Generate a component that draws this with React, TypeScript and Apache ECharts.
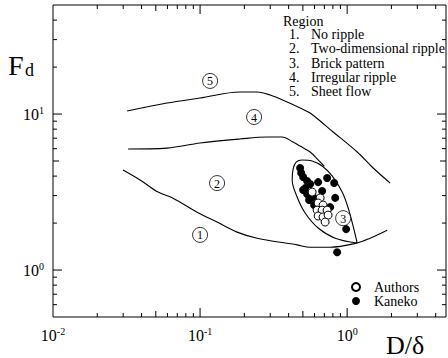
import React, { useEffect, useRef } from "react";
import * as echarts from "echarts";

const FONT = "Liberation Serif";
const FONT_CSS = "'Liberation Serif', serif";

const X_MIN = 0.01;
const X_MAX = 4.7;
const Y_MIN = 0.5;
const Y_MAX = 50;

// Region boundaries [D/delta, Fd]
const boundary45: number[][] = [
  [0.0319, 10.45], [0.0596, 11.76], [0.1, 12.66], [0.187, 13.84], [0.244, 13.84],
  [0.3, 13.24], [0.391, 11.94], [0.479, 10.93], [0.56, 10.15], [0.803, 7.67],
  [1.17, 5.71], [1.503, 4.51], [1.961, 3.61],
];
const boundary24: number[][] = [
  [0.0324, 5.97], [0.0596, 6.05], [0.1, 6.52], [0.187, 6.92], [0.286, 7.12],
  [0.361, 7.12], [0.429, 6.61], [0.479, 6.23], [0.56, 5.71], [0.64, 5.05], [0.7, 4.62],
];
const boundary12: number[][] = [
  [0.0299, 4.38], [0.0391, 3.78], [0.0518, 3.16], [0.0655, 2.89], [0.0954, 2.35],
  [0.1305, 2.03], [0.1785, 1.75], [0.244, 1.6], [0.457, 1.45], [0.56, 1.4],
  [0.766, 1.4], [1.17, 1.49], [1.434, 1.6], [1.871, 1.8],
];
const region3Boundary: number[][] = [
  [1.17, 1.49], [0.829, 1.6], [0.635, 1.86], [0.518, 2.32], [0.457, 2.94],
  [0.423, 3.78], [0.429, 4.44], [0.45, 4.92], [0.494, 5.07], [0.578, 5.0],
  [0.676, 4.64], [0.791, 4.01], [0.925, 3.16], [1.016, 2.5], [1.098, 1.91], [1.17, 1.49],
];

// Measurements
const authors: number[][] = [
  [0.578, 3.16], [0.655, 2.9], [0.635, 2.69], [0.686, 2.61], [0.625, 2.42],
  [0.676, 2.42], [0.731, 2.42], [0.635, 2.22], [0.686, 2.19], [0.742, 2.25], [0.708, 2.03],
];
const kaneko: number[][] = [
  [0.479, 4.51], [0.487, 4.19], [0.502, 3.95], [0.534, 3.72], [0.56, 3.56],
  [0.635, 3.66], [0.731, 3.89], [0.816, 3.61], [0.518, 3.35], [0.676, 3.21],
  [0.534, 3.07], [0.587, 2.94], [0.829, 2.9], [0.551, 2.81], [0.596, 2.61],
  [0.766, 2.53], [0.984, 1.83], [0.855, 1.3], [0.502, 3.26],
];

// Circled region numbers
const regionLabelText = ["1", "2", "3", "4", "5"];
const regionLabelX = [0.1, 0.1305, 0.939, 0.233, 0.117];
const regionLabelY = [1.68, 3.61, 2.15, 9.57, 16.3];

const regionNames = ["No ripple", "Two-dimensional ripple", "Brick pattern", "Irregular ripple", "Sheet flow"];

// Axis tick values
const xTickValues = [
  0.02, 0.03, 0.04, 0.05, 0.06, 0.07, 0.08, 0.09, 0.1,
  0.2, 0.3, 0.4, 0.5, 0.6, 0.7, 0.8, 0.9, 1, 2, 3, 4,
];
const yTickValues = [0.6, 0.7, 0.8, 0.9, 1, 2, 3, 4, 5, 6, 7, 8, 9, 10, 20, 30, 40];

function tickLen(v: number): number {
  const l = Math.log10(v);
  const r = Math.round(l);
  if (Math.abs(l - r) < 1e-6) return 9;
  const m = v / Math.pow(10, Math.floor(l + 1e-9));
  if (Math.abs(m - 5) < 1e-6) return 6;
  return 4;
}

const labelFormatter = (v: number) => `{b|10}{s|${Math.round(Math.log10(v))}}`;
const labelRich = {
  b: { fontSize: 16, fontFamily: FONT, color: "#000", lineHeight: 18 },
  s: { fontSize: 10, fontFamily: FONT, color: "#000", lineHeight: 10, verticalAlign: "top" },
};

export default function App() {
  const ref = useRef<HTMLDivElement>(null);
  useEffect(() => {
    if (!ref.current) return;
    const chart = echarts.init(ref.current, undefined, { renderer: "svg" });
    const lineStyle = { color: "#000", width: 1.1 };
    const mkLine = (name: string, data: number[][]) => ({
      name,
      type: "line",
      data,
      smooth: 0.35,
      showSymbol: false,
      symbol: "none",
      lineStyle,
      itemStyle: { color: "#000" },
      silent: true,
      z: 2,
    });
    const graphics: any[] = [
      { type: "text", x: 8, y: 79, style: { text: "F", font: `28px ${FONT_CSS}`, fill: "#000", verticalAlign: "bottom" } },
      { type: "text", x: 25, y: 79, style: { text: "d", font: `18px ${FONT_CSS}`, fill: "#000", verticalAlign: "bottom" } },
      { type: "text", x: 405, y: 345, style: { text: "D/δ", font: `26px ${FONT_CSS}`, fill: "#000", align: "center", verticalAlign: "middle" } },
      { type: "text", x: 283, y: 21, style: { text: "Region", font: `14px ${FONT_CSS}`, fill: "#000", verticalAlign: "middle" } },
    ];
    regionNames.forEach((n, i) => {
      const y = 34.5 + i * 14.3;
      graphics.push({ type: "text", x: 289, y, style: { text: `${i + 1}.`, font: `14px ${FONT_CSS}`, fill: "#000", verticalAlign: "middle" } });
      graphics.push({ type: "text", x: 311, y, style: { text: n, font: `14px ${FONT_CSS}`, fill: "#000", verticalAlign: "middle" } });
    });

    chart.setOption({
      animation: false,
      backgroundColor: "#fff",
      textStyle: { fontFamily: FONT },
      grid: { left: 53, top: 5, right: 2, bottom: 41, show: true, borderColor: "#000", borderWidth: 1, backgroundColor: "transparent" },
      xAxis: {
        type: "log",
        logBase: 10,
        min: X_MIN,
        max: X_MAX,
        axisLine: { show: false },
        axisTick: { show: false },
        splitLine: { show: false },
        axisLabel: { formatter: labelFormatter, rich: labelRich, fontFamily: FONT, color: "#000", margin: 9, showMinLabel: true, showMaxLabel: false },
      },
      yAxis: {
        type: "log",
        logBase: 10,
        min: Y_MIN,
        max: Y_MAX,
        axisLine: { show: false },
        axisTick: { show: false },
        splitLine: { show: false },
        axisLabel: { formatter: labelFormatter, rich: labelRich, fontFamily: FONT, color: "#000", margin: 9, showMinLabel: false, showMaxLabel: false },
      },
      legend: {
        orient: "vertical",
        left: 346,
        top: 275,
        itemWidth: 8,
        itemHeight: 8,
        itemGap: 0,
        data: [
          { name: "Authors", icon: "circle" },
          { name: "Kaneko", icon: "circle" },
        ],
        textStyle: { fontFamily: FONT, fontSize: 14, color: "#000", lineHeight: 13, padding: [0, 0, 0, 9] },
      },
      graphic: graphics,
      series: [
        mkLine("boundary45", boundary45),
        mkLine("boundary24", boundary24),
        mkLine("boundary12", boundary12),
        mkLine("region3", region3Boundary),
        {
          name: "Kaneko",
          type: "scatter",
          data: kaneko,
          symbol: "circle",
          symbolSize: 8,
          itemStyle: { color: "#000", opacity: 1 },
          z: 3,
        },
        {
          name: "Authors",
          type: "scatter",
          data: authors,
          symbol: "circle",
          symbolSize: 8,
          itemStyle: { color: "#fff", borderColor: "#000", borderWidth: 1, opacity: 1 },
          z: 4,
        },
        {
          name: "regionLabels",
          type: "custom",
          silent: true,
          data: regionLabelText.map((t, i) => [regionLabelX[i], regionLabelY[i], i]),
          renderItem: (_p: any, api: any) => {
            const c = api.coord([api.value(0), api.value(1)]);
            const idx = api.value(2);
            return {
              type: "group",
              children: [
                { type: "circle", shape: { cx: c[0], cy: c[1], r: 7.5 }, style: { fill: "#fff", stroke: "#000", lineWidth: 0.8 } },
                {
                  type: "text",
                  x: c[0],
                  y: c[1] + 0.5,
                  style: { text: regionLabelText[idx], font: `12px ${FONT_CSS}`, fill: "#000", align: "center", verticalAlign: "middle" },
                },
              ],
            };
          },
          z: 5,
        },
        {
          name: "xTicks",
          type: "custom",
          silent: true,
          data: xTickValues.map((v) => [v, Y_MIN]),
          renderItem: (_p: any, api: any) => {
            const v = api.value(0);
            const b = api.coord([v, Y_MIN]);
            const t = api.coord([v, Y_MAX]);
            const len = tickLen(v);
            return {
              type: "group",
              children: [
                { type: "line", shape: { x1: b[0], y1: b[1], x2: b[0], y2: b[1] - len }, style: { stroke: "#000", lineWidth: 1 } },
                { type: "line", shape: { x1: t[0], y1: t[1], x2: t[0], y2: t[1] + len }, style: { stroke: "#000", lineWidth: 1 } },
              ],
            };
          },
          z: 6,
        },
        {
          name: "yTicks",
          type: "custom",
          silent: true,
          data: yTickValues.map((v) => [X_MIN, v]),
          renderItem: (_p: any, api: any) => {
            const v = api.value(1);
            const l = api.coord([X_MIN, v]);
            const r = api.coord([X_MAX, v]);
            const len = tickLen(v);
            return {
              type: "group",
              children: [
                { type: "line", shape: { x1: l[0], y1: l[1], x2: l[0] + len, y2: l[1] }, style: { stroke: "#000", lineWidth: 1 } },
                { type: "line", shape: { x1: r[0], y1: r[1], x2: r[0] - len, y2: r[1] }, style: { stroke: "#000", lineWidth: 1 } },
              ],
            };
          },
          z: 6,
        },
      ],
    });
    return () => chart.dispose();
  }, []);
  return <div ref={ref} style={{ position: "fixed", left: 0, top: 0, width: 448, height: 358 }} />;
}
